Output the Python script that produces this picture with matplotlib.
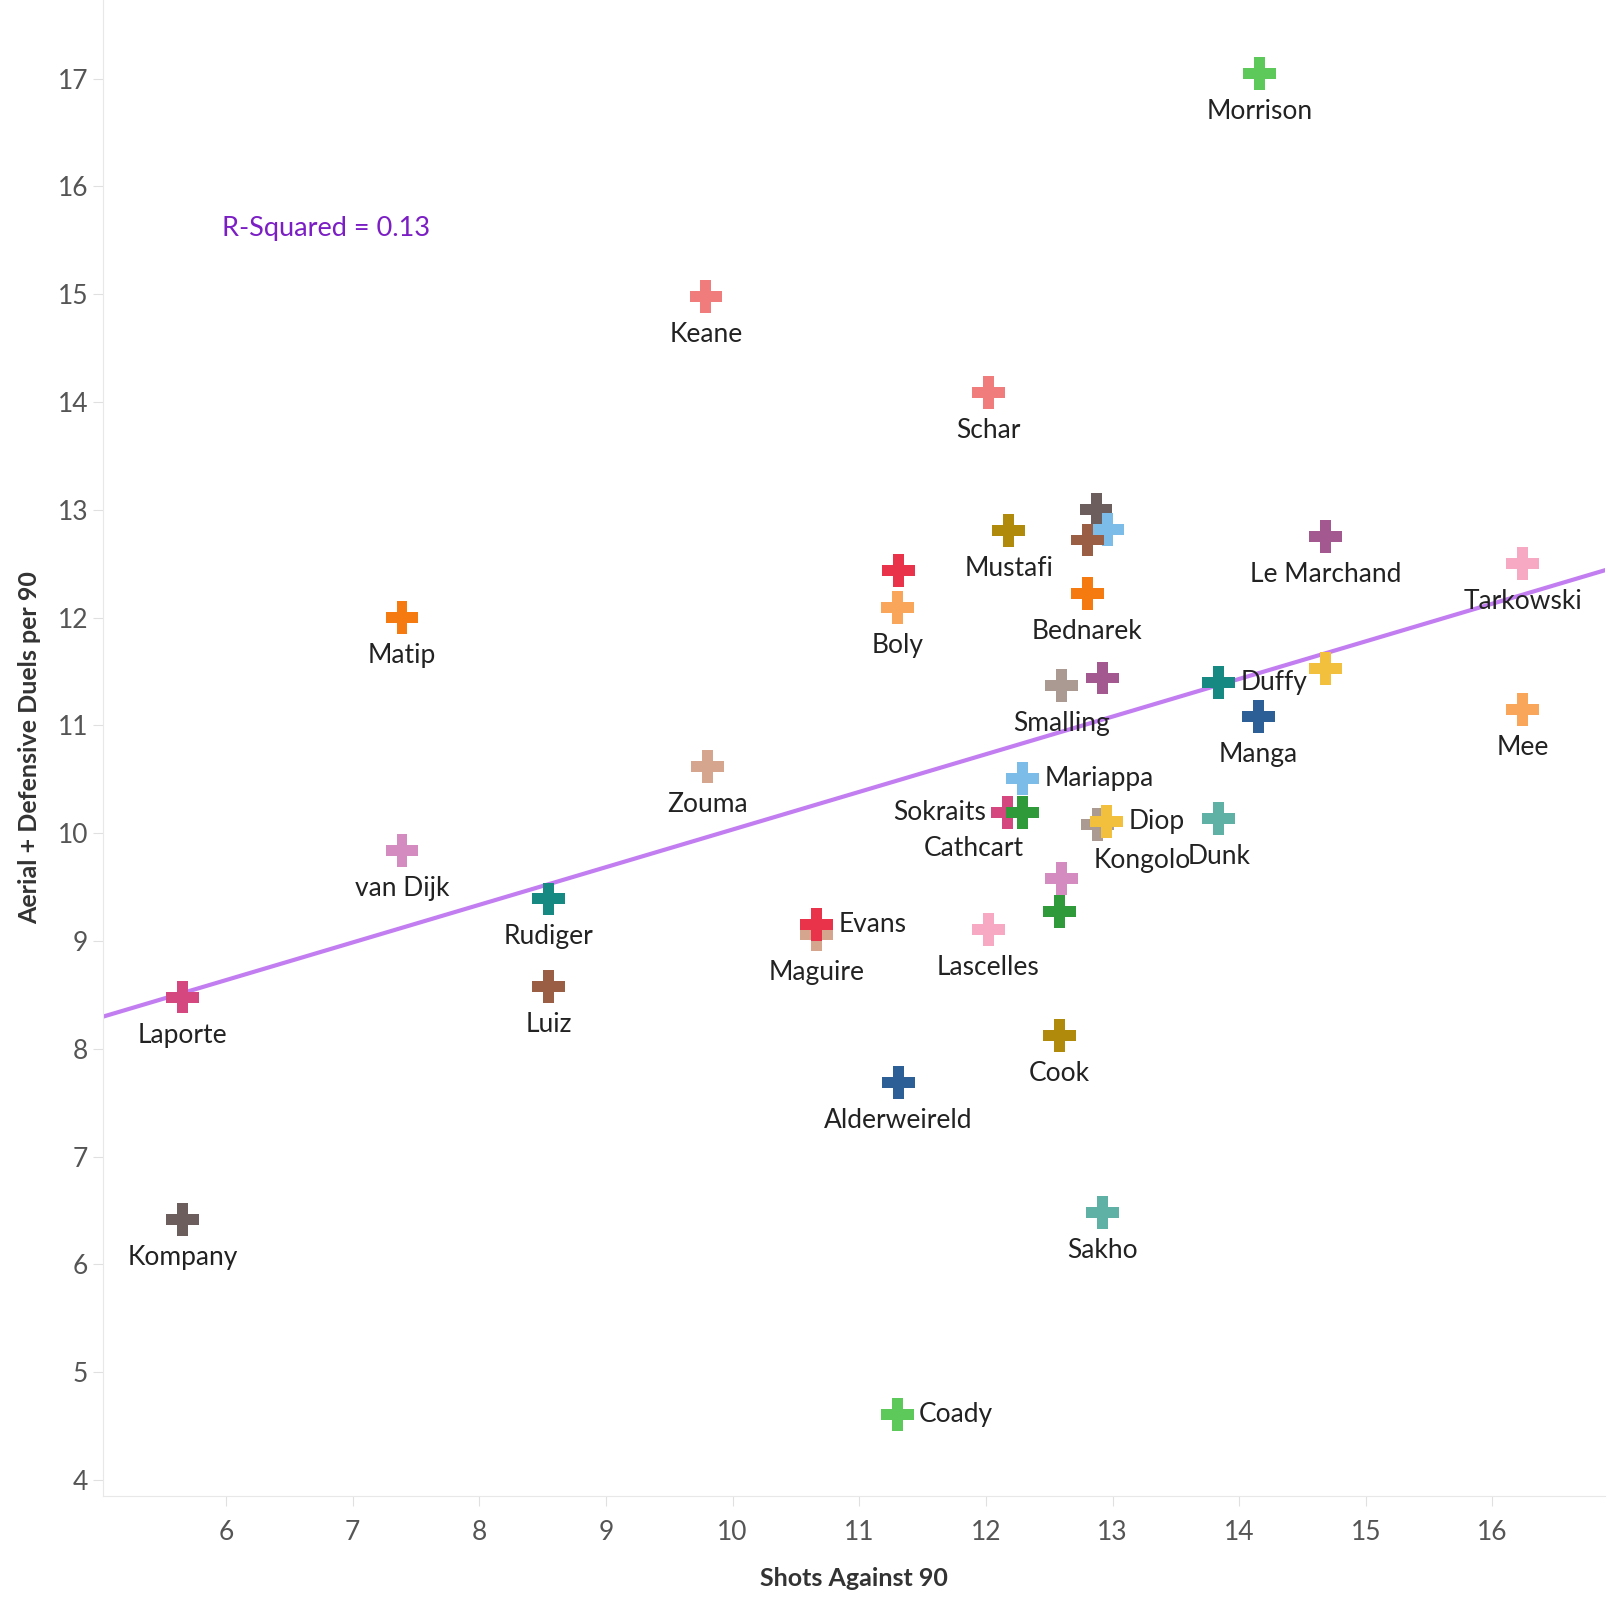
import numpy as np
import matplotlib.pyplot as plt

# players (blank name = unlabelled mark)
names = ["Morrison", "Keane", "Schar", "Mustafi", "", "", "", "", "Boly", "Bednarek",
         "Le Marchand", "Tarkowski", "Matip", "Smalling", "", "Duffy", "", "Manga", "Mee",
         "Zouma", "Mariappa", "Sokraits", "Cathcart", "Kongolo", "Diop", "Dunk", "van Dijk",
         "", "", "Rudiger", "Maguire", "Evans", "Lascelles", "Laporte", "Luiz", "Cook",
         "Alderweireld", "Kompany", "Sakho", "Coady"]
shots_against = [14.16, 9.79, 12.02, 12.18, 12.87, 12.96, 12.80, 11.31, 11.30, 12.80,
                 14.68, 16.24, 7.39, 12.60, 12.92, 13.84, 14.68, 14.15, 16.24,
                 9.80, 12.29, 12.17, 12.29, 12.88, 12.95, 13.84, 7.39,
                 12.60, 12.58, 8.55, 10.66, 10.66, 12.02, 5.66, 8.55, 12.58,
                 11.31, 5.66, 12.92, 11.30]
duels = [17.05, 14.98, 14.09, 12.81, 13.00, 12.82, 12.72, 12.44, 12.09, 12.22,
         12.75, 12.50, 12.00, 11.37, 11.44, 11.40, 11.53, 11.08, 11.15,
         10.62, 10.51, 10.19, 10.19, 10.08, 10.11, 10.14, 9.84,
         9.58, 9.27, 9.39, 9.06, 9.15, 9.11, 8.48, 8.58, 8.12,
         7.69, 6.42, 6.48, 4.61]
colors = ["#5cc95a", "#f07c7c", "#f07c7c", "#b08a0a", "#6b5e5c", "#7bbde8", "#9a5e44", "#e8334a",
          "#f9a65a", "#f57a10", "#a3588f", "#f7a8c3", "#f57a10", "#aa9a92", "#a3588f", "#168a82",
          "#f2c03c", "#2c5f96", "#f9a65a", "#d5a58d", "#7bbde8", "#d4477f", "#2e9a3a", "#aa9a92",
          "#f2c03c", "#5fb0a5", "#d48cc0", "#d48cc0", "#2e9a3a", "#168a82", "#d5a58d", "#e8334a",
          "#f7a8c3", "#d4477f", "#9a5e44", "#b08a0a", "#2c5f96", "#6b5e5c", "#5fb0a5", "#5cc95a"]
r_squared = 0.13

# label placement in pixels (default: centred below the mark)
side = {"Duffy": (22, 0, "left"), "Mariappa": (22, 0, "left"), "Diop": (22, 0, "left"),
        "Evans": (22, 0, "left"), "Coady": (22, 0, "left"), "Sokraits": (-21, 0, "right"),
        "Cathcart": (-49, -36, "center"), "Kongolo": (45, -36, "center")}

plt.rcParams['font.family'] = ['Lato', 'DejaVu Sans']
fig = plt.figure(figsize=(16.1, 16.03), dpi=100)
ax = fig.add_axes([0.0638, 0.0667, 0.9332, 0.9333])

# trend line (least squares)
slope, icpt = np.polyfit(shots_against, duels, 1)
xl = np.array([5.03, 16.89])
ax.plot(xl, slope * xl + icpt, color="#c27ef0", lw=3, zorder=1)

ax.scatter(shots_against, duels, marker="P", s=560, c=colors, linewidths=0, zorder=3)

for n, x, y in zip(names, shots_against, duels):
    if not n:
        continue
    dx, dy, ha = side.get(n, (0, -38, "center"))
    ax.annotate(n, (x, y), xytext=(dx, dy), textcoords="offset pixels",
                ha=ha, va="center", fontsize=19, color="#222222", zorder=4)

ax.text(5.97, 15.61, "R-Squared = %.2f" % r_squared, color="#7b1fc4", fontsize=19.5,
        ha="left", va="center")

ax.set_xlim(5.027, 16.89)
ax.set_ylim(3.85, 17.73)
ax.set_xticks(range(6, 17))
ax.set_yticks(range(4, 18))
for s in ["top", "right"]:
    ax.spines[s].set_visible(False)
for s in ["left", "bottom"]:
    ax.spines[s].set_color("#e8e8e8")
ax.tick_params(colors="#e0e0e0", labelcolor="#555555", labelsize=19, length=7)
ax.tick_params(axis="x", pad=10)
ax.set_xlabel("Shots Against 90", fontsize=18, fontweight="bold", color="#333333", labelpad=16)
ax.set_ylabel("Aerial + Defensive Duels per 90", fontsize=18, fontweight="bold", color="#333333", labelpad=12)

fig.savefig("out.png", dpi=100)
